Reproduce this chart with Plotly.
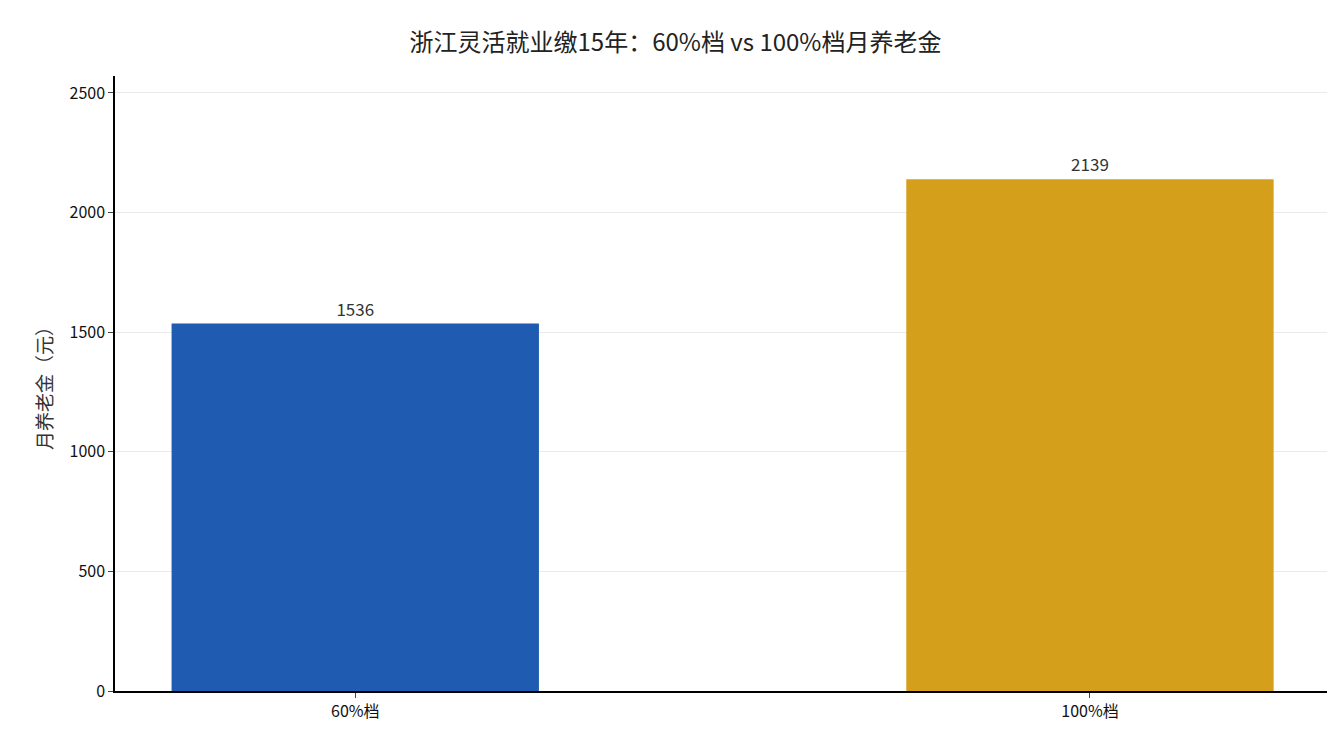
import plotly.graph_objects as go

categories = ["60%档", "100%档"]
pension = [1536, 2139]
colors = ["#1f5bb0", "#d4a01b"]
title = "浙江灵活就业缴15年：60%档 vs 100%档月养老金"

fig = go.Figure()
fig.add_trace(go.Bar(
    x=[0, 1], y=pension, width=0.5, marker_color=colors, marker_line_width=0,
    text=[str(v) for v in pension], textposition="outside",
    textfont=dict(size=17, color="#333333"), cliponaxis=False,
))

fig.update_layout(
    width=1335, height=735,
    font=dict(family="Noto Sans CJK SC", size=16, color="#111111"),
    title=dict(text=title, x=0.5, xanchor="center", y=0.965, font=dict(size=24, color="#222222")),
    plot_bgcolor="white", paper_bgcolor="white",
    margin=dict(l=107, r=15, t=68, b=52),
    showlegend=False,
)
fig.update_xaxes(
    range=[-0.327, 1.324], tickvals=[0, 1], ticktext=categories,
    showline=True, linecolor="black", linewidth=1.5, ticks="outside", ticklen=5,
    showgrid=False,
)
fig.update_yaxes(
    range=[0, 2571], tickvals=[0, 500, 1000, 1500, 2000, 2500],
    showline=True, linecolor="black", linewidth=1.5, ticks="outside", ticklen=5,
    showgrid=True, gridcolor="rgba(220,220,220,0.6)", gridwidth=1, zeroline=False,
    title=dict(text="月养老金（元）", font=dict(size=19, color="#333333"), standoff=12),
    layer="above traces",
)

fig.write_html("out.html")
